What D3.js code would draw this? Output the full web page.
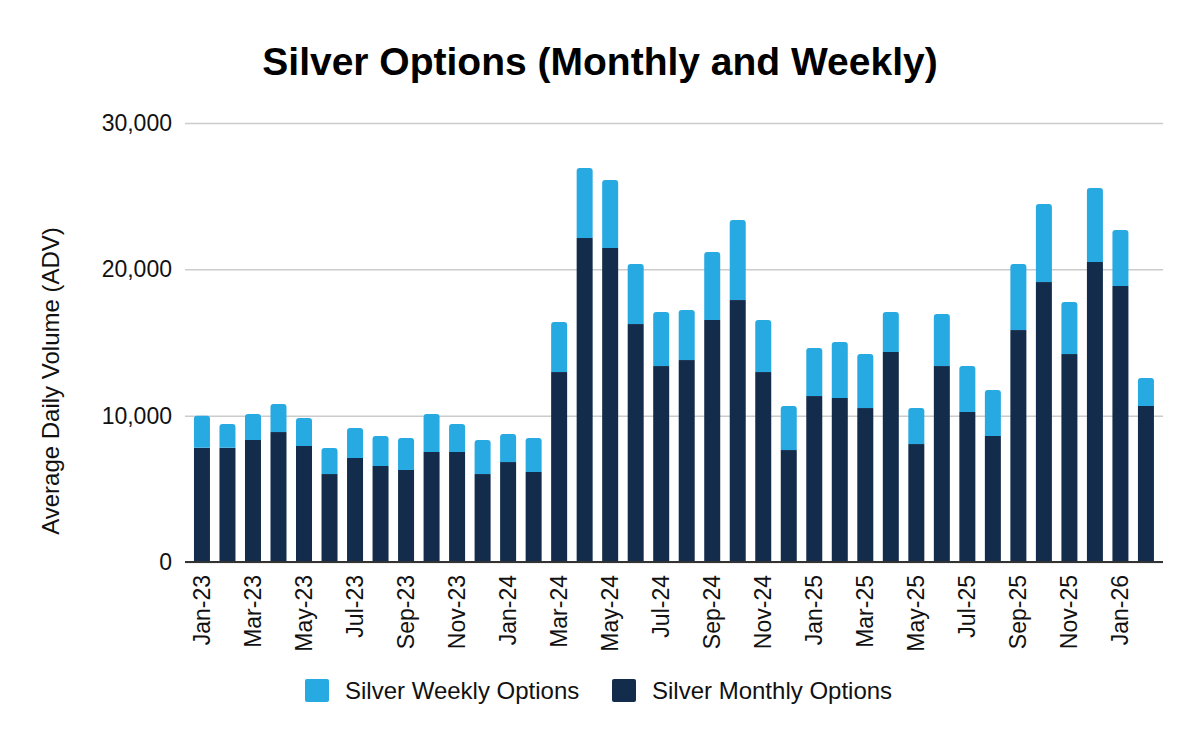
<!DOCTYPE html>
<html>
<head>
<meta charset="utf-8">
<script src="https://cdn.jsdelivr.net/npm/d3@7"></script>
<style>
  body { margin: 0; background: #fff; }
  svg { display: block; font-family: "Liberation Sans", Arial, sans-serif; }
</style>
</head>
<body>
<svg id="chart" width="1200" height="742"></svg>
<script>
// months on the x axis
let months = ["Jan-23","Feb-23","Mar-23","Apr-23","May-23","Jun-23","Jul-23","Aug-23","Sep-23","Oct-23","Nov-23","Dec-23",
              "Jan-24","Feb-24","Mar-24","Apr-24","May-24","Jun-24","Jul-24","Aug-24","Sep-24","Oct-24","Nov-24","Dec-24",
              "Jan-25","Feb-25","Mar-25","Apr-25","May-25","Jun-25","Jul-25","Aug-25","Sep-25","Oct-25","Nov-25","Dec-25",
              "Jan-26","Feb-26"]

// ADV, monthly options (bottom of stack)
let monthly = [7800, 7800, 8340, 8880, 7930, 6010, 7110, 6560, 6290, 7520, 7520, 6010,
               6830, 6150, 12980, 22140, 21460, 16260, 13390, 13800, 16540, 17900, 12980, 7650,
               11340, 11210, 10520, 14350, 8060, 13390, 10250, 8610, 15850, 19130, 14210, 20500,
               18860, 10660]

// ADV, weekly options (top of stack)
let weekly = [2200, 1630, 1770, 1920, 1910, 1780, 2050, 2050, 2180, 2590, 1910, 2330,
              1920, 2320, 3420, 4790, 4640, 4100, 3690, 3420, 4640, 5470, 3560, 3010,
              3280, 3820, 3690, 2730, 2460, 3560, 3140, 3140, 4510, 5330, 3560, 5060,
              3830, 1910]

let yTicks = [0, 10000, 20000, 30000]

let colWeekly = "#27a9e1"
let colMonthly = "#132c4b"

let svg = d3.select("#chart")

let x = d3.scaleBand()
    .domain(months)
    .range([189.2, 1158.7])
    .paddingInner(0.373)
    .paddingOuter(0.1865)

let y = d3.scaleLinear()
    .domain([0, 30000])
    .range([562, 123])

// title
svg.append("text")
    .attr("x", 600)
    .attr("y", 75)
    .attr("text-anchor", "middle")
    .attr("font-size", 39)
    .attr("font-weight", "bold")
    .text("Silver Options (Monthly and Weekly)")

// gridlines + y labels
let yAxis = d3.axisLeft(y)
    .tickValues(yTicks)
    .tickSize(-(1163 - 185))
    .tickPadding(13)
    .tickFormat(d3.format(","))

let gy = svg.append("g")
    .attr("transform", "translate(185,0)")
    .call(yAxis)
gy.select(".domain").remove()
gy.selectAll(".tick line")
    .attr("stroke", "#cccccc")
    .attr("stroke-width", 1.5)
gy.selectAll(".tick text")
    .attr("font-size", 23)
    .attr("fill", "#111")
    .attr("font-family", "Liberation Sans, Arial, sans-serif")

svg.append("text")
    .attr("transform", "translate(59,381) rotate(-90)")
    .attr("text-anchor", "middle")
    .attr("font-size", 24)
    .attr("fill", "#111")
    .text("Average Daily Volume (ADV)")

let rows = months.map((m, i) => ({ month: m, monthly: monthly[i], weekly: weekly[i] }))

// monthly bars
svg.append("g").selectAll("rect")
    .data(rows)
    .join("rect")
    .attr("x", d => x(d.month))
    .attr("width", x.bandwidth())
    .attr("y", d => y(d.monthly))
    .attr("height", d => y(0) - y(d.monthly))
    .attr("fill", colMonthly)

// weekly bars, rounded top corners
let r = 3
svg.append("g").selectAll("path")
    .data(rows)
    .join("path")
    .attr("d", d => {
        let x0 = x(d.month), w = x.bandwidth()
        let yb = y(d.monthly), yt = y(d.monthly + d.weekly)
        let p = d3.path()
        p.moveTo(x0, yb)
        p.lineTo(x0, yt + r)
        p.quadraticCurveTo(x0, yt, x0 + r, yt)
        p.lineTo(x0 + w - r, yt)
        p.quadraticCurveTo(x0 + w, yt, x0 + w, yt + r)
        p.lineTo(x0 + w, yb)
        p.closePath()
        return p.toString()
    })
    .attr("fill", colWeekly)

// baseline
svg.append("line")
    .attr("x1", 185).attr("x2", 1163)
    .attr("y1", y(0)).attr("y2", y(0))
    .attr("stroke", "#333")
    .attr("stroke-width", 2)

// x labels, every other month
let xAxis = d3.axisBottom(x)
    .tickValues(months.filter((m, i) => i % 2 === 0))
    .tickSize(0)
    .tickPadding(0)

let gx = svg.append("g")
    .attr("transform", "translate(0," + y(0) + ")")
    .call(xAxis)
gx.select(".domain").remove()
gx.selectAll(".tick text")
    .attr("font-size", 23)
    .attr("fill", "#111")
    .attr("font-family", "Liberation Sans, Arial, sans-serif")
    .attr("text-anchor", "end")
    .attr("transform", "rotate(-90)")
    .attr("x", -13)
    .attr("y", 0)
    .attr("dy", "0.35em")

// legend
let legend = [
    { name: "Silver Weekly Options", color: colWeekly, x: 305 },
    { name: "Silver Monthly Options", color: colMonthly, x: 612 }
]
let lg = svg.append("g").selectAll("g")
    .data(legend)
    .join("g")
    .attr("transform", d => "translate(" + d.x + ",679)")
lg.append("rect")
    .attr("width", 24).attr("height", 23)
    .attr("rx", 2)
    .attr("fill", d => d.color)
lg.append("text")
    .attr("x", 40)
    .attr("y", 20)
    .attr("font-size", 24)
    .attr("fill", "#111")
    .text(d => d.name)
</script>
</body>
</html>
